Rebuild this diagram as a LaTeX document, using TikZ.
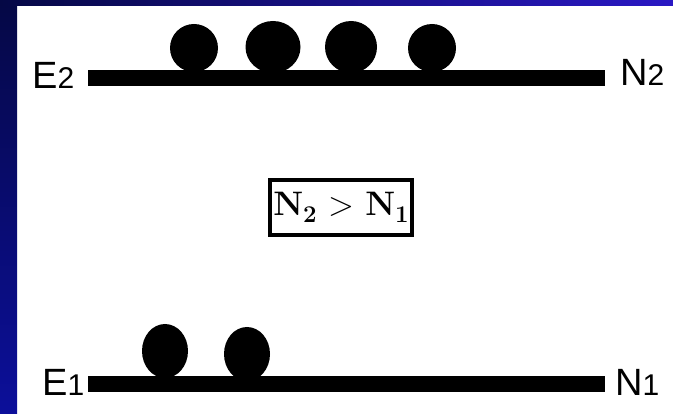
\documentclass[tikz,border=0pt]{standalone}
\usepackage{fontspec}
\setmainfont{Liberation Sans}
\newfontfamily\uvjetfont{Latin Modern Roman}
\usetikzlibrary{shapes.geometric}
\definecolor{Tamna}{HTML}{050845}
\definecolor{Plava}{HTML}{0C0F9A}
\definecolor{Svijetla}{HTML}{2A18C4}
\tikzset{
  razina/.style = {line width=16pt, draw=black},
  cestica/.style= {ellipse, fill=black, inner sep=0pt},
  oznaka/.style = {inner sep=0pt, font=\fontsize{38}{38}\selectfont},
  okvir/.style  = {draw=black, line width=4pt, inner sep=0pt,
                   minimum width=142pt, minimum height=55pt,
                   font=\uvjetfont\bfseries\fontsize{34}{34}\selectfont},
}
\newcommand{\indeks}[1]{{\fontsize{30}{30}\selectfont #1}}
\newcommand{\donji}[1]{\raisebox{-7pt}{\fontsize{24}{24}\selectfont #1}}

\begin{document}
\begin{tikzpicture}[x=1pt, y=1pt]
  \useasboundingbox (0,0) rectangle (673,413);
  % --- plavi rub ---
  \shade[top color=Tamna, bottom color=Plava] (0,0) rectangle (17,413);
  \shade[left color=Tamna, right color=Svijetla] (0,407) rectangle (673,413);

  % --- gornja razina ---
  \coordinate (g1) at (88,335);
  \coordinate (g2) at (605,335);
  \foreach \n/\x/\y/\w/\h in {a/194/365/48/48, b/273/366/55/52,
                              c/351/366/52/52, d/432/365/48/48}
    \node[cestica, minimum width=\w pt, minimum height=\h pt] (g\n) at (\x,\y) {};
  \draw[razina] (g1) -- (g2);
  \node[oznaka, anchor=base west] at (32,324) (e2) {E\indeks{2}};
  \node[oznaka, anchor=base west] at (620,327) (n2) {N\indeks{2}};

  % --- uvjet ---
  \node[okvir] at (341,205.5) (uvjet)
        {N\donji{2}\,{\mdseries\,>\,}\,N\donji{1}};

  % --- donja razina ---
  \coordinate (d1) at (88,29);
  \coordinate (d2) at (605,29);
  \foreach \n/\x/\y in {a/165/62, b/247/59}
    \node[cestica, minimum width=46pt, minimum height=54pt] (d\n) at (\x,\y) {};
  \draw[razina] (d1) -- (d2);
  \node[oznaka, anchor=base west] at (42,18) (e1) {E\indeks{1}};
  \node[oznaka, anchor=base west] at (615,18) (n1) {N\indeks{1}};
\end{tikzpicture}
\end{document}
